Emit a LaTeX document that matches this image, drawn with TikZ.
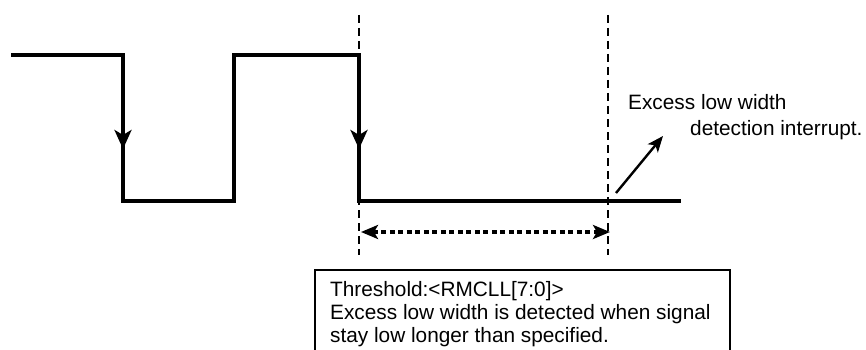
\documentclass[tikz,border=0pt]{standalone}
\usepackage{fontspec}
\setmainfont{Liberation Sans}
\usetikzlibrary{arrows.meta}
\begin{document}
\begin{tikzpicture}[x=1pt,y=-1pt,
  signal/.style={line width=3.8pt,line join=miter},
  edgearrow/.style={line width=3.8pt,-{Stealth[length=19pt,width=17pt,inset=5pt]}},
  guide/.style={line width=2.8pt,dash pattern=on 8pt off 5pt},
  span/.style={line width=3.4pt,dash pattern=on 5pt off 3.5pt,{Stealth[length=17pt,width=14pt,inset=4pt]}-{Stealth[length=17pt,width=14pt,inset=4pt]}},
  irq/.style={line width=2.4pt,-{Stealth[length=16pt,width=13pt,inset=4pt]}},
  txt/.style={inner sep=0pt,anchor=base west,font=\fontsize{20.8}{23}\selectfont}]
\clip (0,0) rectangle (866,350);
% signal waveform
\coordinate (s0) at (11,55);
\coordinate (f1t) at (123,55);
\coordinate (f1b) at (123,201);
\coordinate (r1b) at (234,201);
\coordinate (r1t) at (234,55);
\coordinate (f2t) at (359,55);
\coordinate (f2b) at (359,201);
\coordinate (s1) at (681,201);
\draw[signal] (s0) -- (f1t) -- (f1b) -- (r1b) -- (r1t) -- (f2t) -- (f2b) -- (s1);
% arrows on falling edges
\coordinate (a1s) at (123,128);
\coordinate (a1e) at (123,149);
\coordinate (a2s) at (359,128);
\coordinate (a2e) at (359,149);
\draw[edgearrow] (a1s) -- (a1e);
\draw[edgearrow] (a2s) -- (a2e);
% dashed guides
\coordinate (g1t) at (359,15);
\coordinate (g1b) at (359,255);
\coordinate (g2t) at (608,15);
\coordinate (g2b) at (608,255);
\draw[guide] (g1t) -- (g1b);
\draw[guide] (g2t) -- (g2b);
% span arrow
\coordinate (sp1) at (361,232);
\coordinate (sp2) at (610,232);
\draw[span] (sp1) -- (sp2);
% interrupt arrow
\coordinate (i1) at (616,193);
\coordinate (i2) at (663,136);
\draw[irq] (i1) -- (i2);
\node[txt] (l1) at (628,110) {Excess low width};
\node[txt] (l2) at (690,135) {detection interrupt.};
% box
\draw[line width=1.8pt] (315,270) rectangle (730,380);
\node[txt] (b1) at (330,296) {Threshold:<RMCLL[7:0]>};
\node[txt] (b2) at (330,319) {Excess low width is detected when signal};
\node[txt] (b3) at (330,342) {stay low longer than specified.};
\end{tikzpicture}
\end{document}
